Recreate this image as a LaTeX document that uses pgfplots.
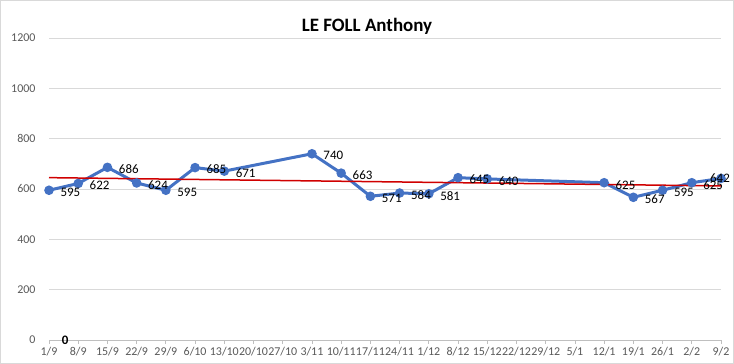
\documentclass[border=0pt]{standalone}
\usepackage{pgfplots}
\pgfplotsset{compat=1.18}
\usepackage{fontspec}
\setmainfont{Carlito}
\definecolor{ser}{HTML}{4472C4}
\definecolor{trend}{HTML}{D00000}
\definecolor{tickc}{HTML}{595959}
\definecolor{gridc}{HTML}{D9D9D9}
\definecolor{axisc}{HTML}{BFBFBF}
\begin{document}
\begin{tikzpicture}
\useasboundingbox (0bp,0bp) rectangle (734bp,364bp);
\draw[gridc, line width=1bp] (0.5bp,0.5bp) rectangle (733.5bp,363.5bp);
\node[font=\fontsize{19}{19}\selectfont\bfseries, text=black] at (367bp,338bp) {LE FOLL Anthony};
\begin{axis}[at={(49bp,24bp)}, anchor=south west, scale only axis,
  width=672bp, height=302bp,
  xmin=0, xmax=23, ymin=0, ymax=1200,
  xtick={0,...,23},
  xticklabels={1/9,8/9,15/9,22/9,29/9,6/10,13/10,20/10,27/10,3/11,10/11,17/11,24/11,1/12,8/12,15/12,22/12,29/12,5/1,12/1,19/1,26/1,2/2,9/2},
  ytick={0,200,...,1200},
  yticklabel={\pgfmathprintnumber[fixed,precision=0,1000 sep={}]{\tick}},
  axis x line*=bottom, axis y line*=left,
  y axis line style={draw=none},
  x axis line style={axisc, line width=0.75bp},
  ymajorgrids, grid style={gridc, line width=0.75bp},
  tick align=outside, major tick length=4bp,
  ytick style={draw=none},
  xtick style={axisc, line width=0.75bp},
  /pgf/number format/assume math mode=true,
  ticklabel style={font=\fontsize{12}{12}\selectfont, text=tickc},
  yticklabel style={xshift=-6bp},
  xticklabel style={inner xsep=0pt},
  clip=false,
]
\addplot[ser, line width=3bp, mark=*, mark size=3.2bp, mark options={solid, fill=ser}]
  coordinates {
  (0,595) (1,622) (2,686) (3,624) (4,595) (5,685) (6,671)
  (9,740) (10,663) (11,571) (12,584) (13,581) (14,645) (15,640)
  (19,625) (20,567) (21,595) (22,625) (23,642)
  };
\addplot[trend, line width=1.5bp, no marks] coordinates {(0,645.1) (23,612.2)};
% data labels drawn on top
\addplot[draw=none, no marks, nodes near coords,
  every node near coord/.append style={anchor=west, xshift=8bp, yshift=-2bp,
     font=\fontsize{13}{13}\selectfont, text=black}]
  coordinates {
  (0,595) (1,622) (2,686) (3,624) (4,595) (5,685) (6,671)
  (9,740) (10,663) (11,571) (12,584) (13,581) (14,645) (15,640)
  (19,625) (20,567) (21,595) (22,625)
  };
\addplot[draw=none, no marks, nodes near coords,
  every node near coord/.append style={anchor=center, xshift=-1bp, yshift=0bp,
     font=\fontsize{13}{13}\selectfont, text=black}]
  coordinates {(23,642)};
\node[font=\fontsize{13}{13}\selectfont\bfseries, text=black] at (axis cs:0.55,0) {0};
\end{axis}
\end{tikzpicture}
\end{document}
